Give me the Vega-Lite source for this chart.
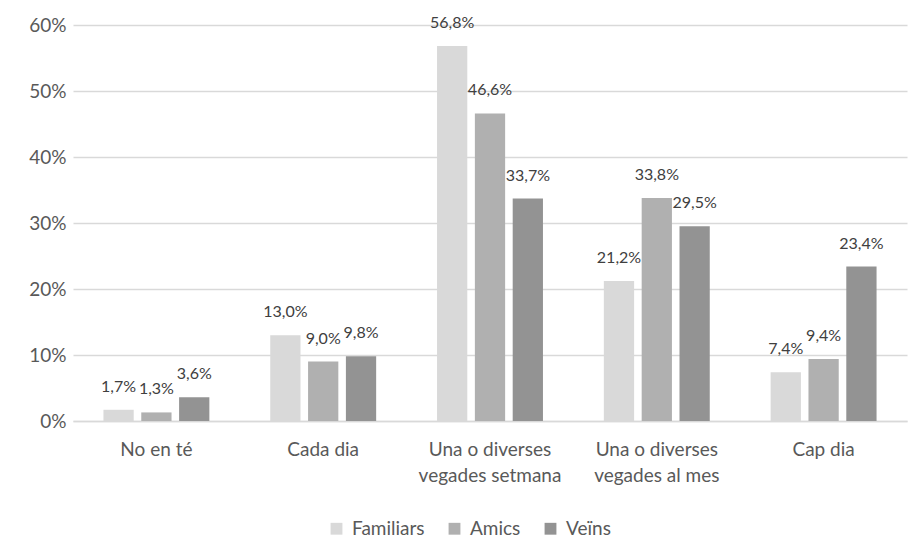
{
  "$schema": "https://vega.github.io/schema/vega-lite/v6.json",
  "width": 834,
  "height": 396,
  "autosize": {"type": "none"},
  "padding": {"left": 73, "top": 25, "right": 5, "bottom": 121},
  "background": "white",
  "config": {
    "locale": {"number": {"decimal": ",", "thousands": ".", "grouping": [3], "currency": ["", " €"]}},
    "view": {"stroke": null},
    "font": "Lato"
  },
  "data": {
    "values": [
      {"cat": "No en té", "serie": "Familiars", "v": 0.017},
      {"cat": "No en té", "serie": "Amics", "v": 0.013},
      {"cat": "No en té", "serie": "Veïns", "v": 0.036},
      {"cat": "Cada dia", "serie": "Familiars", "v": 0.130},
      {"cat": "Cada dia", "serie": "Amics", "v": 0.090},
      {"cat": "Cada dia", "serie": "Veïns", "v": 0.098},
      {"cat": "Una o diverses|vegades setmana", "serie": "Familiars", "v": 0.568},
      {"cat": "Una o diverses|vegades setmana", "serie": "Amics", "v": 0.466},
      {"cat": "Una o diverses|vegades setmana", "serie": "Veïns", "v": 0.337},
      {"cat": "Una o diverses|vegades al mes", "serie": "Familiars", "v": 0.212},
      {"cat": "Una o diverses|vegades al mes", "serie": "Amics", "v": 0.338},
      {"cat": "Una o diverses|vegades al mes", "serie": "Veïns", "v": 0.295},
      {"cat": "Cap dia", "serie": "Familiars", "v": 0.074},
      {"cat": "Cap dia", "serie": "Amics", "v": 0.094},
      {"cat": "Cap dia", "serie": "Veïns", "v": 0.234}
    ]
  },
  "encoding": {
    "x": {
      "field": "cat", "type": "nominal", "sort": null, "title": null,
      "scale": {"paddingInner": 0.365, "paddingOuter": 0.1825},
      "axis": {
        "labelExpr": "split(datum.label, '|')",
        "labelAngle": 0, "labelFontSize": 19, "labelColor": "#595959",
        "labelFont": "Lato", "labelPadding": 19, "labelLineHeight": 26,
        "ticks": false, "domainColor": "#d9d9d9", "domainWidth": 1.5, "grid": false
      }
    },
    "xOffset": {
      "field": "serie", "type": "nominal",
      "sort": ["Familiars", "Amics", "Veïns"],
      "scale": {"paddingInner": 0.2, "paddingOuter": 0}
    },
    "y": {
      "field": "v", "type": "quantitative", "title": null,
      "scale": {"domain": [0, 0.6], "nice": false},
      "axis": {
        "format": ".0%", "values": [0, 0.1, 0.2, 0.3, 0.4, 0.5, 0.6],
        "labelFontSize": 19, "labelColor": "#595959", "labelFont": "Lato",
        "labelPadding": 7, "ticks": false, "domain": false,
        "gridColor": "#d9d9d9", "gridWidth": 1.5
      }
    }
  },
  "layer": [
    {
      "mark": {"type": "bar"},
      "encoding": {
        "color": {
          "field": "serie", "type": "nominal",
          "sort": ["Familiars", "Amics", "Veïns"],
          "scale": {"domain": ["Familiars", "Amics", "Veïns"], "range": ["#d9d9d9", "#b0b0b0", "#939393"]},
          "legend": {
            "title": null, "orient": "none", "direction": "horizontal",
            "legendX": 254, "legendY": 494,
            "symbolType": "square", "symbolSize": 140, "symbolStrokeWidth": 0,
            "labelFontSize": 19, "labelColor": "#595959", "labelFont": "Lato",
            "columnPadding": 20, "labelOffset": 6
          }
        }
      }
    },
    {
      "mark": {"type": "text", "baseline": "middle", "dy": -23, "fontSize": 16, "color": "#404040", "font": "Lato"},
      "encoding": {
        "text": {"field": "v", "type": "quantitative", "format": ".1%"}
      }
    }
  ]
}
